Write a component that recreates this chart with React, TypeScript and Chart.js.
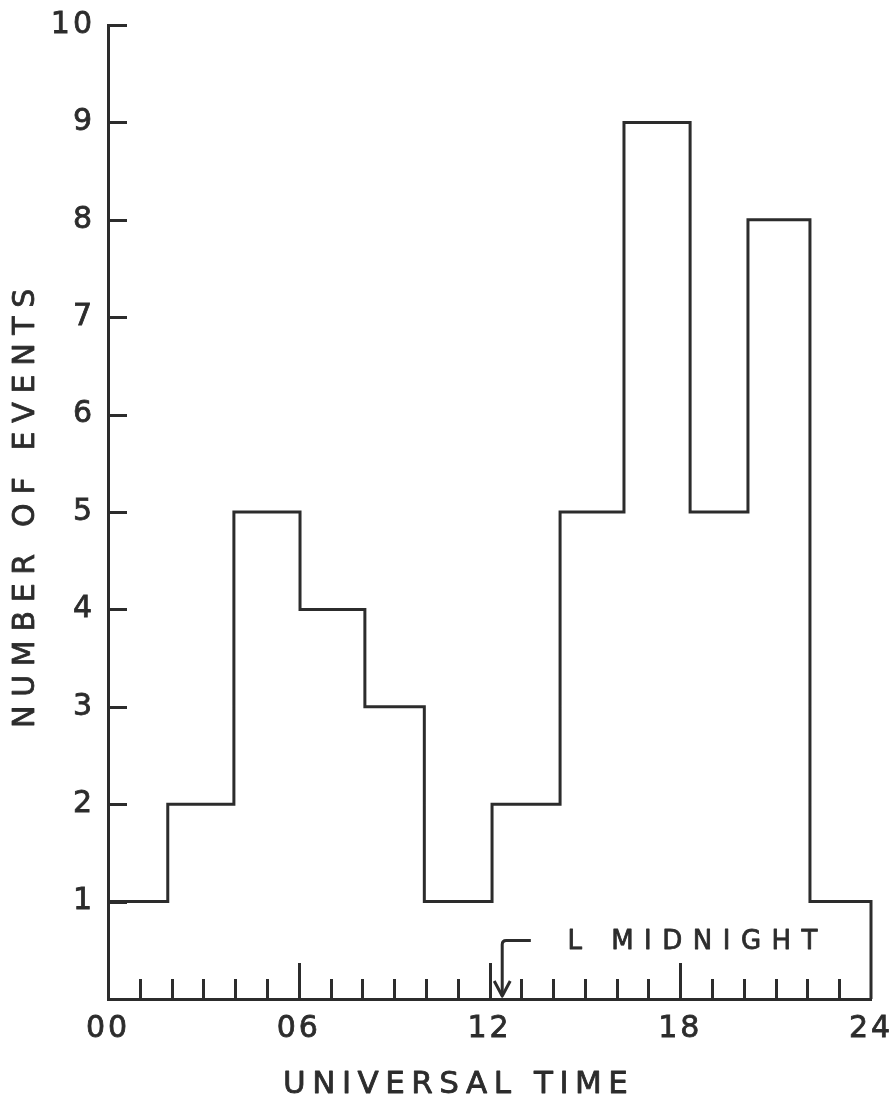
import React, { useEffect, useRef } from "react";
import { Chart, registerables } from "chart.js";

Chart.register(...registerables);

// ---- data ----
const binEdgesHours = [0, 1.88, 3.96, 6.04, 8.08, 9.95, 12.08, 14.22, 16.23, 18.31, 20.13, 22.08, 24];
const eventCounts = [1, 2, 5, 4, 3, 1, 2, 5, 9, 5, 8, 1];

const xTickHours = [0, 6, 12, 18, 24];
const xTickLabels = ["00", "06", "12", "18", "24"];
const yTickValues = [1, 2, 3, 4, 5, 6, 7, 8, 9, 10];
const hourMarks = [1, 2, 3, 4, 5, 6, 7, 8, 9, 10, 11, 12, 13, 14, 15, 16, 17, 18, 19, 20, 21, 22, 23];
const majorHourMarks = [6, 12, 18];

const xTitle = "UNIVERSAL TIME";
const yTitle = "NUMBER OF EVENTS";
const midnightLabel = "L MIDNIGHT";
const midnightHour = 12.4;

// ---- style ----
const INK = "#2c2c2c";
const FONT = "'DejaVu Sans', 'Liberation Sans', sans-serif";

const lastEdge = binEdgesHours[binEdgesHours.length - 1];
const histogramPoints = [
  ...eventCounts.map((c, i) => ({ x: binEdgesHours[i], y: c })),
  { x: lastEdge, y: eventCounts[eventCounts.length - 1] },
  { x: lastEdge, y: 0 },
];

const decorPlugin = {
  id: "decor",
  beforeDraw(chart: any) {
    chart.ctx.letterSpacing = "3px";
  },
  afterDraw(chart: any) {
    const { ctx, chartArea, scales } = chart;
    const xs = scales.x;
    const ys = scales.y;
    const line = (x1: number, y1: number, x2: number, y2: number) => {
      ctx.beginPath();
      ctx.moveTo(x1, y1);
      ctx.lineTo(x2, y2);
      ctx.stroke();
    };
    ctx.save();
    ctx.strokeStyle = INK;
    ctx.fillStyle = INK;
    ctx.lineWidth = 3;
    ctx.lineCap = "butt";

    // inward y ticks
    yTickValues.forEach((v) => {
      const py = Math.round(ys.getPixelForValue(v)) + 0.5;
      line(chartArea.left, py, chartArea.left + 19, py);
    });
    // inward x ticks (every hour)
    hourMarks.forEach((h) => {
      const px = Math.round(xs.getPixelForValue(h)) + 0.5;
      const len = majorHourMarks.includes(h) ? 36 : 20;
      line(px, chartArea.bottom, px, chartArea.bottom - len);
    });

    // local midnight arrow
    const ax = xs.getPixelForValue(midnightHour);
    const yTop = ys.getPixelForValue(0.6);
    const yTip = ys.getPixelForValue(0.03);
    const hookEnd = xs.getPixelForValue(13.3);
    ctx.lineJoin = "round";
    ctx.beginPath();
    ctx.moveTo(hookEnd, yTop);
    ctx.lineTo(ax + 4, yTop);
    ctx.quadraticCurveTo(ax, yTop, ax, yTop + 4);
    ctx.lineTo(ax, yTip);
    ctx.stroke();
    ctx.beginPath();
    ctx.moveTo(ax - 8, yTip - 15);
    ctx.lineTo(ax, yTip);
    ctx.lineTo(ax + 8, yTip - 15);
    ctx.stroke();

    const text = (s: string, x: number, y: number) => {
      ctx.lineWidth = 0.8;
      ctx.strokeText(s, x, y);
      ctx.fillText(s, x, y);
    };

    // midnight label
    ctx.font = `26px ${FONT}`;
    ctx.letterSpacing = "10.5px";
    ctx.textAlign = "left";
    ctx.textBaseline = "middle";
    text(midnightLabel, xs.getPixelForValue(14.45), ys.getPixelForValue(0.58));

    // x axis title
    ctx.font = `31px ${FONT}`;
    ctx.letterSpacing = "6.5px";
    text(xTitle, 283, 1085);

    // y axis title
    ctx.font = `30px ${FONT}`;
    ctx.letterSpacing = "8.7px";
    ctx.translate(26, 508);
    ctx.rotate(-Math.PI / 2);
    text(yTitle, -220, 0);
    ctx.restore();
  },
};

export default function App() {
  const canvasRef = useRef<HTMLCanvasElement | null>(null);

  useEffect(() => {
    const canvas = canvasRef.current;
    if (!canvas) return;
    const chart = new Chart(canvas, {
      type: "line",
      data: {
        datasets: [
          {
            data: histogramPoints,
            stepped: "before",
            borderColor: INK,
            borderWidth: 3,
            borderJoinStyle: "miter",
            borderCapStyle: "butt",
            pointRadius: 0,
            fill: false,
            clip: false,
          } as any,
        ],
      },
      options: {
        animation: false,
        responsive: false,
        devicePixelRatio: 1,
        layout: { autoPadding: false, padding: { top: 25, right: 18, left: 0, bottom: 0 } },
        plugins: { legend: { display: false }, tooltip: { enabled: false } },
        events: [],
        scales: {
          x: {
            type: "linear",
            min: 0,
            max: 24,
            afterBuildTicks: (s: any) => {
              s.ticks = xTickHours.map((v) => ({ value: v }));
            },
            afterFit: (s: any) => {
              s.height = 105;
              s.paddingLeft = 0;
              s.paddingRight = 0;
            },
            ticks: {
              autoSkip: false,
              maxRotation: 0,
              padding: 12,
              color: INK,
              textStrokeColor: INK,
              textStrokeWidth: 0.8,
              font: { family: FONT, size: 30 },
              callback: (v: any) => xTickLabels[xTickHours.indexOf(Number(v))] ?? "",
            },
            grid: { display: true, drawOnChartArea: false, drawTicks: false },
            border: { display: true, color: INK, width: 3 },
          },
          y: {
            type: "linear",
            min: 0,
            max: 10,
            afterBuildTicks: (s: any) => {
              s.ticks = yTickValues.map((v) => ({ value: v }));
            },
            afterFit: (s: any) => {
              s.width = 108;
              s.paddingTop = 0;
              s.paddingBottom = 0;
            },
            ticks: {
              padding: 13,
              color: INK,
              textStrokeColor: INK,
              textStrokeWidth: 0.8,
              font: { family: FONT, size: 30 },
              callback: (v: any) => String(v),
            },
            grid: { display: true, drawOnChartArea: false, drawTicks: false },
            border: { display: true, color: INK, width: 3 },
          },
        },
      } as any,
      plugins: [decorPlugin],
    });
    return () => chart.destroy();
  }, []);

  return (
    <div style={{ position: "fixed", left: 0, top: 0, width: 889, height: 1104, background: "#fff" }}>
      <canvas ref={canvasRef} width={889} height={1104} style={{ display: "block" }} />
    </div>
  );
}
